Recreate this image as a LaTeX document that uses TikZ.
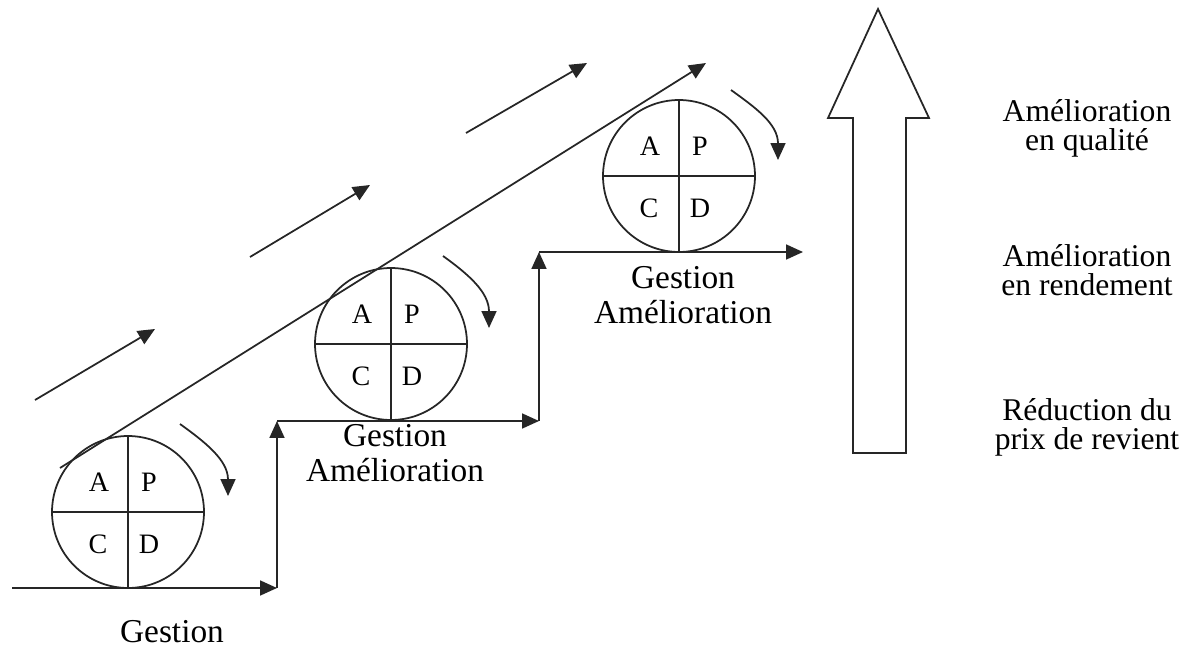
\documentclass[tikz,border=0pt]{standalone}
\usepackage{fontspec}
\setmainfont{Liberation Serif}
\usetikzlibrary{arrows.meta}
\tikzset{
  px/.style={x=0.02cm,y=-0.02cm},
  ln/.style={line width=1pt, draw=black!85},
  arr/.style={ln, -{Triangle[length=0.34cm,width=0.3cm]}},
  pdca/.style={circle, ln, minimum size=3.04cm, inner sep=0pt},
  letter/.style={font=\fontsize{16}{18}\selectfont, inner sep=0pt},
  glabel/.style={font=\fontsize{19}{19.5}\selectfont, align=center, inner sep=0pt},
  rlabel/.style={font=\fontsize{18}{16.5}\selectfont, align=center, inner sep=0pt},
}
\newcommand{\pdcacircle}[3]{%
  \node[pdca] (#1) at (#2,#3) {};
  \draw[ln] (#1.north) -- (#1.south);
  \draw[ln] (#1.west) -- (#1.east);
  \node[letter] (#1A) at ([xshift=-0.58cm,yshift=0.6cm]#1.center) {A};
  \node[letter] (#1P) at ([xshift=0.42cm,yshift=0.6cm]#1.center) {P};
  \node[letter] (#1C) at ([xshift=-0.6cm,yshift=-0.64cm]#1.center) {C};
  \node[letter] (#1D) at ([xshift=0.42cm,yshift=-0.64cm]#1.center) {D};
}
\begin{document}
\begin{tikzpicture}[px]
\useasboundingbox (0,0) rectangle (1196,648);

% PDCA circles
\pdcacircle{c1}{128}{512}
\pdcacircle{c2}{391}{344}
\pdcacircle{c3}{679}{176}

% staircase
\coordinate (s0) at (12,588);
\coordinate (s1) at (277,588);
\coordinate (s2) at (277,421);
\coordinate (s3) at (539,421);
\coordinate (s4) at (539,252);
\coordinate (s5) at (803,252);
\draw[arr] (s0) -- (s1);
\draw[arr] (s1) -- (s2);
\draw[arr] (s2) -- (s3);
\draw[arr] (s3) -- (s4);
\draw[arr] (s4) -- (s5);

% long tangent line
\coordinate (l0) at (60,468);
\coordinate (l1) at (706,63);
\draw[arr] (l0) -- (l1);

% short parallel arrows
\coordinate (a1s) at (35,400);   \coordinate (a1e) at (155,329);
\coordinate (a2s) at (250,257);  \coordinate (a2e) at (370,185);
\coordinate (a3s) at (466,133);  \coordinate (a3e) at (587,63);
\draw[arr] (a1s) -- (a1e);
\draw[arr] (a2s) -- (a2e);
\draw[arr] (a3s) -- (a3e);

% rotation arrows
\coordinate (r1s) at (180,424); \coordinate (r1e) at (228,496);
\coordinate (r2s) at (443,256); \coordinate (r2e) at (489,328);
\coordinate (r3s) at (731,90);  \coordinate (r3e) at (778,160);
\draw[arr] (r1s) .. controls (205,442) and (228,460) .. (r1e);
\draw[arr] (r2s) .. controls (468,274) and (489,292) .. (r2e);
\draw[arr] (r3s) .. controls (756,108) and (778,124) .. (r3e);

% labels under circles
\node[glabel] (g1) at (172,632) {Gestion};
\node[glabel] (g2) at (395,453) {Gestion\\Amélioration};
\node[glabel] (g3) at (683,295) {Gestion\\Amélioration};

% big hollow arrow
\draw[ln, fill=white] (878,9) -- (929,118) -- (906,118) -- (906,453)
  -- (853,453) -- (853,118) -- (828,118) -- cycle;

% right labels
\node[rlabel] (q) at (1087,128) {Amélioration\\en qualité};
\node[rlabel] (r) at (1087,270) {Amélioration\\en rendement};
\node[rlabel] (p) at (1087,427) {Réduction du\\prix de revient};
\end{tikzpicture}
\end{document}
